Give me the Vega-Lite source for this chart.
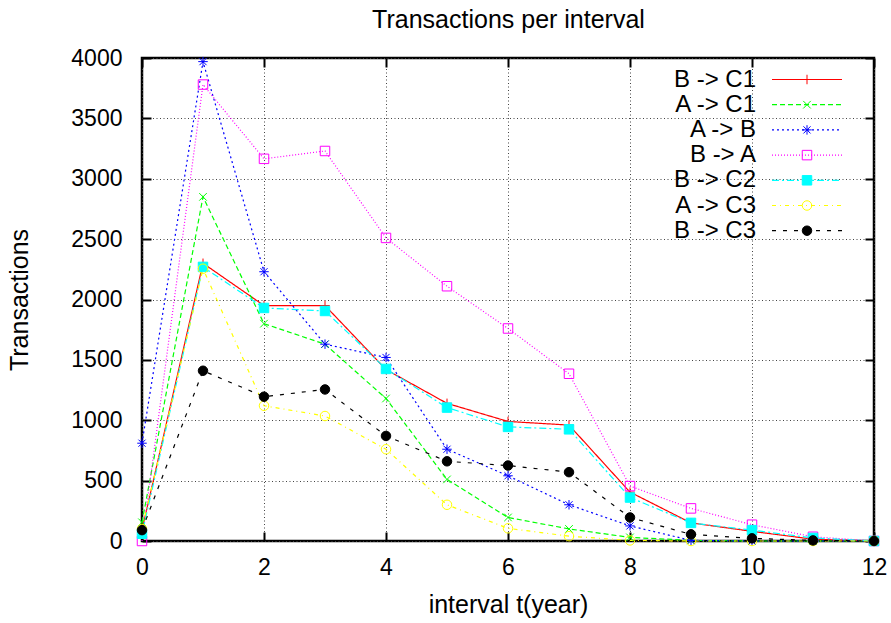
{
  "$schema": "https://vega.github.io/schema/vega-lite/v6.json",
  "width": 732,
  "height": 483,
  "autosize": {"type": "none"},
  "padding": {"left": 142, "top": 58, "right": 17, "bottom": 82},
  "background": "white",
  "config": {
    "view": {"stroke": "black", "strokeWidth": 2.5},
    "font": "Liberation Sans",
    "axis": {
      "labelFont": "Liberation Sans", "labelFontSize": 23, "labelColor": "black",
      "titleFont": "Liberation Sans", "titleFontSize": 25, "titleFontWeight": "normal", "titleColor": "black",
      "domain": false, "tickColor": "black", "tickWidth": 2, "tickSize": -9,
      "gridColor": "#444444", "gridDash": [1, 2.5], "gridWidth": 1, "gridOpacity": 1,
      "labelFlush": false, "labelOverlap": false, "format": "d"
    }
  },
  "data": {"values": [
    {"t":0,"series":"B -> C1","value":90},{"t":1,"series":"B -> C1","value":2300},{"t":2,"series":"B -> C1","value":1950},{"t":3,"series":"B -> C1","value":1950},{"t":4,"series":"B -> C1","value":1420},{"t":5,"series":"B -> C1","value":1140},{"t":6,"series":"B -> C1","value":990},{"t":7,"series":"B -> C1","value":960},{"t":8,"series":"B -> C1","value":405},{"t":9,"series":"B -> C1","value":150},{"t":10,"series":"B -> C1","value":80},{"t":11,"series":"B -> C1","value":15},{"t":12,"series":"B -> C1","value":0},
    {"t":0,"series":"A -> C1","value":155},{"t":1,"series":"A -> C1","value":2850},{"t":2,"series":"A -> C1","value":1800},{"t":3,"series":"A -> C1","value":1630},{"t":4,"series":"A -> C1","value":1180},{"t":5,"series":"A -> C1","value":510},{"t":6,"series":"A -> C1","value":195},{"t":7,"series":"A -> C1","value":100},{"t":8,"series":"A -> C1","value":30},{"t":9,"series":"A -> C1","value":5},{"t":10,"series":"A -> C1","value":0},{"t":11,"series":"A -> C1","value":0},{"t":12,"series":"A -> C1","value":0},
    {"t":0,"series":"A -> B","value":810},{"t":1,"series":"A -> B","value":3970},{"t":2,"series":"A -> B","value":2230},{"t":3,"series":"A -> B","value":1630},{"t":4,"series":"A -> B","value":1520},{"t":5,"series":"A -> B","value":760},{"t":6,"series":"A -> B","value":540},{"t":7,"series":"A -> B","value":300},{"t":8,"series":"A -> B","value":125},{"t":9,"series":"A -> B","value":5},{"t":10,"series":"A -> B","value":0},{"t":11,"series":"A -> B","value":0},{"t":12,"series":"A -> B","value":0},
    {"t":0,"series":"B -> A","value":0},{"t":1,"series":"B -> A","value":3780},{"t":2,"series":"B -> A","value":3165},{"t":3,"series":"B -> A","value":3230},{"t":4,"series":"B -> A","value":2510},{"t":5,"series":"B -> A","value":2110},{"t":6,"series":"B -> A","value":1760},{"t":7,"series":"B -> A","value":1385},{"t":8,"series":"B -> A","value":455},{"t":9,"series":"B -> A","value":270},{"t":10,"series":"B -> A","value":135},{"t":11,"series":"B -> A","value":35},{"t":12,"series":"B -> A","value":0},
    {"t":0,"series":"B -> C2","value":60},{"t":1,"series":"B -> C2","value":2270},{"t":2,"series":"B -> C2","value":1930},{"t":3,"series":"B -> C2","value":1905},{"t":4,"series":"B -> C2","value":1425},{"t":5,"series":"B -> C2","value":1105},{"t":6,"series":"B -> C2","value":945},{"t":7,"series":"B -> C2","value":925},{"t":8,"series":"B -> C2","value":360},{"t":9,"series":"B -> C2","value":150},{"t":10,"series":"B -> C2","value":90},{"t":11,"series":"B -> C2","value":25},{"t":12,"series":"B -> C2","value":0},
    {"t":0,"series":"A -> C3","value":100},{"t":1,"series":"A -> C3","value":2255},{"t":2,"series":"A -> C3","value":1120},{"t":3,"series":"A -> C3","value":1035},{"t":4,"series":"A -> C3","value":760},{"t":5,"series":"A -> C3","value":300},{"t":6,"series":"A -> C3","value":105},{"t":7,"series":"A -> C3","value":40},{"t":8,"series":"A -> C3","value":5},{"t":9,"series":"A -> C3","value":0},{"t":10,"series":"A -> C3","value":0},{"t":11,"series":"A -> C3","value":0},{"t":12,"series":"A -> C3","value":0},
    {"t":0,"series":"B -> C3","value":90},{"t":1,"series":"B -> C3","value":1410},{"t":2,"series":"B -> C3","value":1195},{"t":3,"series":"B -> C3","value":1255},{"t":4,"series":"B -> C3","value":870},{"t":5,"series":"B -> C3","value":660},{"t":6,"series":"B -> C3","value":625},{"t":7,"series":"B -> C3","value":570},{"t":8,"series":"B -> C3","value":195},{"t":9,"series":"B -> C3","value":55},{"t":10,"series":"B -> C3","value":22},{"t":11,"series":"B -> C3","value":5},{"t":12,"series":"B -> C3","value":0}
  ]},
  "layer": [
    {
      "mark": {"type": "line", "strokeWidth": 1.2},
      "encoding": {
        "x": {"field": "t", "type": "quantitative", "scale": {"domain": [0, 12], "nice": false},
              "axis": {"orient": "bottom", "values": [0,2,4,6,8,10,12], "grid": true, "title": "interval t(year)", "labelPadding": 24, "titlePadding": 13}},
        "y": {"field": "value", "type": "quantitative", "scale": {"domain": [0, 4000], "nice": false},
              "axis": {"orient": "left", "values": [0,500,1000,1500,2000,2500,3000,3500,4000], "grid": true, "title": "Transactions", "labelPadding": 29, "titlePadding": 38}},
        "stroke": {"field": "series", "type": "nominal",
          "scale": {"domain": ["B -> C1","A -> C1","A -> B","B -> A","B -> C2","A -> C3","B -> C3"], "range": ["#ff0000","#00ff00","#0000ff","#ff00ff","#00ffff","#ffff00","#000000"]},
          "legend": {"orient": "none", "legendX": 653, "legendY": 9.5, "title": null, "padding": 0, "labelFont": "Liberation Sans", "labelFontSize": 24, "labelColor": "black", "labelAlign": "right", "labelOffset": -63, "labelLimit": 400, "symbolType": "M-7,0H7", "symbolSize": 100, "symbolStrokeWidth": 1.2, "rowPadding": 1.2}},
        "strokeDash": {"field": "series", "type": "nominal",
          "scale": {"domain": ["B -> C1","A -> C1","A -> B","B -> A","B -> C2","A -> C3","B -> C3"], "range": [[1,0],[5,3],[2,3],[1,2],[7,3,2,3],[4,4,1,4],[4,7]]},
          "legend": {"orient": "none", "legendX": 653, "legendY": 9.5, "title": null, "padding": 0, "labelFont": "Liberation Sans", "labelFontSize": 24, "labelColor": "black", "labelAlign": "right", "labelOffset": -63, "labelLimit": 400, "symbolType": "M-7,0H7", "symbolSize": 100, "symbolStrokeWidth": 1.2, "rowPadding": 1.2}}
      }
    },
    {
      "mark": {"type": "point", "size": 90, "strokeWidth": 1, "opacity": 1},
      "encoding": {
        "x": {"field": "t", "type": "quantitative", "scale": {"domain": [0, 12], "nice": false},
              "axis": {"orient": "top", "values": [0,2,4,6,8,10,12], "grid": false, "labels": false, "title": "Transactions per interval", "titleBaseline": "alphabetic", "titlePadding": 30}},
        "y": {"field": "value", "type": "quantitative", "scale": {"domain": [0, 4000], "nice": false},
              "axis": {"orient": "right", "values": [0,500,1000,1500,2000,2500,3000,3500,4000], "grid": false, "labels": false, "title": null}},
        "stroke": {"field": "series", "type": "nominal",
          "scale": {"domain": ["B -> C1","A -> C1","A -> B","B -> A","B -> C2","A -> C3","B -> C3"], "range": ["#ff0000","#00ff00","#0000ff","#ff00ff","#00ffff","#ffff00","#000000"]},
          "legend": {"orient": "none", "legendX": 653, "legendY": 9.5, "title": null, "padding": 0, "labelFontSize": 24, "labelExpr": "' '", "symbolSize": 90, "symbolStrokeWidth": 1, "rowPadding": 1.2}},
        "fill": {"field": "series", "type": "nominal",
          "scale": {"domain": ["B -> C1","A -> C1","A -> B","B -> A","B -> C2","A -> C3","B -> C3"], "range": ["transparent","transparent","transparent","transparent","#00ffff","transparent","#000000"]},
          "legend": {"orient": "none", "legendX": 653, "legendY": 9.5, "title": null, "padding": 0, "labelFontSize": 24, "labelExpr": "' '", "symbolSize": 90, "symbolStrokeWidth": 1, "rowPadding": 1.2}},
        "shape": {"field": "series", "type": "nominal",
          "scale": {"domain": ["B -> C1","A -> C1","A -> B","B -> A","B -> C2","A -> C3","B -> C3"],
                    "range": ["M-1,0H1M0,-1V1","M-0.8,-0.8L0.8,0.8M-0.8,0.8L0.8,-0.8","M-1,0H1M0,-1V1M-0.75,-0.75L0.75,0.75M-0.75,0.75L0.75,-0.75","square","square","circle","circle"]},
          "legend": {"orient": "none", "legendX": 653, "legendY": 9.5, "title": null, "padding": 0, "labelFontSize": 24, "labelExpr": "' '", "symbolSize": 90, "symbolStrokeWidth": 1, "rowPadding": 1.2}}
      }
    }
  ],
  "resolve": {
    "axis": {"x": "independent", "y": "independent"},
    "scale": {"stroke": "independent", "strokeDash": "independent", "fill": "independent", "shape": "independent"}
  }
}
